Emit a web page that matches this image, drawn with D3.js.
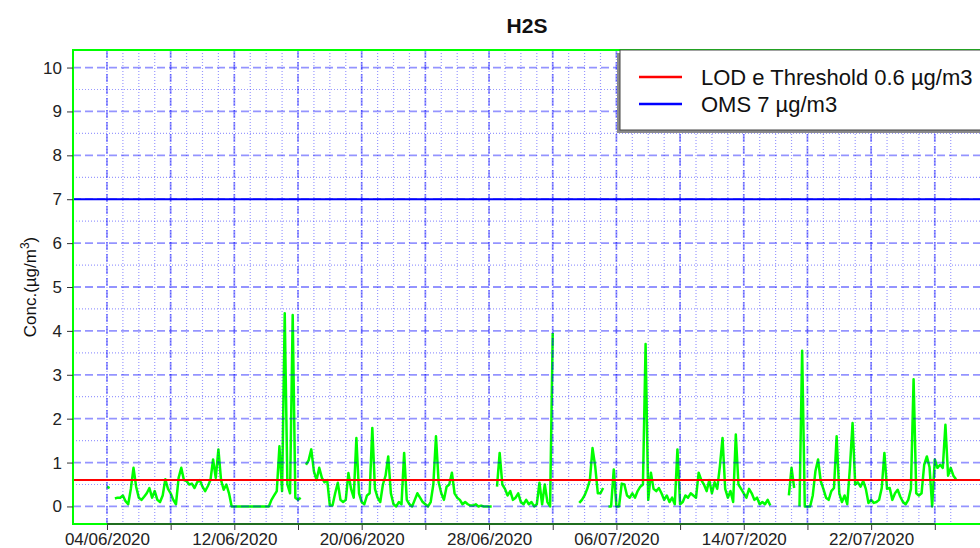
<!DOCTYPE html>
<html>
<head>
  <meta charset="utf-8">
  <title>H2S</title>
  <style>
    body { margin: 0; background: #fff; }
    svg { display: block; font-family: "Liberation Sans", Arial, sans-serif; }
    .tick text { fill: #222; }
    .tick line { stroke: #333; }
  </style>
</head>
<body>
  <svg width="980" height="548"></svg>
  <script src="https://d3js.org/d3.v7.min.js"></script>
  <script>
    // series: one value every 4 hours from 04/06/2020 00:00, null = missing
    const startDate = Date.UTC(2020, 5, 4);
    const stepHours = 4;
    const h2s = [
      0.45, 0.42, null, 0.18, 0.2, 0.2,     // 04/06
      0.25, 0.12, 0.05, 0.4, 0.88, 0.45,
      0.2, 0.15, 0.22, 0.3, 0.42, 0.2,
      0.35, 0.15, 0.1, 0.25, 0.62, 0.4,
      0.3, 0.15, 0.05, 0.65, 0.88, 0.6,
      0.58, 0.5, 0.52, 0.42, 0.55, 0.6,
      0.45, 0.35, 0.46, 0.6, 1.07, 0.65,
      1.3, 0.6, 0.38, 0.5, 0.3, 0.0,
      0, 0, 0, 0, 0, 0,                     // 12/06
      0, 0, 0, 0, 0, 0,
      0, 0, 0.15, 0.25, 0.35, 1.37,
      0.35, 4.4, 0.5, 0.3, 4.36, 0.2,
      0.15, 0.2, null, 0.95, 1.05, 1.3,
      0.8, 0.6, 0.88, 0.65, 0.55, 0.6,
      0.02, 0.02, 0.3, 0.54, 0.15, 0.1,
      0.15, 0.76, 0.4, 0.2, 1.56, 0.3,
      0.1, 0.05, 0.25, 0.3, 1.79, 0.4,      // 20/06
      0.2, 0.1, 0.5, 0.7, 1.14, 0.3,
      0.05, 0.0, 0.1, 0.05, 1.22, 0.15,
      0.05, 0.0, 0.15, 0.3, 0.2, 0.1,
      0.05, 0.0, 0.1, 0.5, 1.6, 0.55,
      0.3, 0.15, 0.45, 0.5, 0.77, 0.3,
      0.2, 0.15, 0.05, 0.1, 0.05, 0.02,
      0.02, 0.05, 0.0, 0.02, 0.0, 0.0,
      0.0, 0.0, null, 0.45, 1.22, 0.5,      // 28/06
      0.4, 0.25, 0.35, 0.15, 0.2, 0.3,
      0.1, 0.05, 0.15, 0.05, 0.1, 0.0,
      0.05, 0.54, 0.05, 0.5, 0.1, 0.0,
      3.95, null, null, null, null, null,
      null, null, null, null, 0.08, 0.15,
      0.25, 0.4, 0.6, 1.33, 0.92, 0.3,
      0.3, 0.42, null, 0.0, 0.0, 0.84,
      0.0, 0.0, 0.52, 0.5, 0.25, 0.2,       // 06/07
      0.3, 0.2, 0.35, 0.45, 0.5, 3.7,
      0.15, 0.77, 0.4, 0.35, 0.42, 0.3,
      0.15, 0.25, 0.1, 0.2, 0.05, 1.3,
      0.05, 0.1, 0.25, 0.2, 0.3, 0.25,
      0.2, 0.77, 0.6, 0.5, 0.35, 0.6,
      0.3, 0.55, 0.4, 0.92, 1.56, 0.4,
      0.2, 0.35, 0.1, 1.64, 0.5, 0.4,
      0.3, 0.2, 0.4, 0.3, 0.15, 0.2,        // 14/07
      0.05, 0.1, 0.05, 0.15, 0.02, null,
      null, null, null, null, null, 0.25,
      0.88, 0.42, null, 0.0, 3.55, 0.0,
      0.0, 0.0, 0.25, 0.8, 1.07, 0.58,
      0.4, 0.2, 0.15, 0.35, 0.42, 1.6,
      0.3, 0.1, 0.25, 0.05, 0.88, 1.9,
      0.5, 0.55, 0.45, 0.58, 0.4, 0.08,
      0.15, 0.08, 0.1, 0.15, 0.42, 1.22,    // 22/07
      0.4, 0.42, 0.15, 0.3, 0.38, 0.22,
      0.1, 0.05, 0.15, 0.4, 2.9, 0.3,
      0.25, 0.3, 0.95, 1.14, 0.9, 0.0,
      1.07, 0.88, 0.95, 0.88, 1.86, 0.7,
      0.88, 0.7, 0.62
    ];

    const lodValue = 0.6;
    const omsValue = 7;
    const legendLabels = ["LOD e Threshold 0.6 \u00b5g/m3", "OMS 7 \u00b5g/m3"];
    const legendColors = ["#ff0000", "#0000ff"];
    const yTicks = d3.range(0, 11);
    const yMinor = d3.range(0.5, 10, 1);

    const svg = d3.select("svg");
    const plotL = 73, plotR = 990, plotT = 50, plotB = 524;
    const day = 864e5;

    const data = h2s.map((v, i) => ({ t: new Date(startDate + i * stepHours * 3600e3), v: v }));

    // R-style 4% padding on both axes
    const [t0, t1] = d3.extent(data, d => d.t);
    const pad = (t1 - t0) * 0.04;
    const x = d3.scaleUtc().domain([new Date(+t0 - pad), new Date(+t1 + pad)]).range([plotL, plotR]);
    const y = d3.scaleLinear().domain([-0.4, 10.4]).range([plotB, plotT]);

    const dayTicks = d3.range(0, 54).map(i => new Date(startDate + i * day));
    const majorTicks = d3.range(0, 53, 4).map(i => new Date(startDate + i * day));
    const fmt = d3.utcFormat("%d/%m/%Y");

    svg.append("defs").append("clipPath").attr("id", "plot")
      .append("rect").attr("x", plotL).attr("y", plotT).attr("width", plotR - plotL).attr("height", plotB - plotT);

    // data line
    svg.append("path")
      .datum(data)
      .attr("clip-path", "url(#plot)")
      .attr("fill", "none")
      .attr("stroke", "#00ff00")
      .attr("stroke-width", 2.5)
      .attr("stroke-linejoin", "round")
      .attr("d", d3.line().defined(d => d.v != null).x(d => x(d.t)).y(d => y(d.v)));

    // grid, drawn over the data like the original
    const grid = svg.append("g").attr("stroke", "#0000ff").attr("fill", "none");
    grid.selectAll(".vmin").data(dayTicks).join("line")
      .attr("x1", d => x(d)).attr("x2", d => x(d)).attr("y1", plotT).attr("y2", plotB)
      .attr("stroke-opacity", 0.4).attr("stroke-width", 1.2).attr("stroke-dasharray", "1,2");
    grid.selectAll(".hmin").data(yMinor).join("line")
      .attr("x1", plotL).attr("x2", plotR).attr("y1", d => y(d)).attr("y2", d => y(d))
      .attr("stroke-opacity", 0.4).attr("stroke-width", 1.2).attr("stroke-dasharray", "1,2");
    grid.selectAll(".vmaj").data(majorTicks).join("line")
      .attr("x1", d => x(d)).attr("x2", d => x(d)).attr("y1", plotT).attr("y2", plotB)
      .attr("stroke-opacity", 0.42).attr("stroke-width", 1.8).attr("stroke-dasharray", "8,4");
    grid.selectAll(".hmaj").data(yTicks).join("line")
      .attr("x1", plotL).attr("x2", plotR).attr("y1", d => y(d)).attr("y2", d => y(d))
      .attr("stroke-opacity", 0.42).attr("stroke-width", 1.8).attr("stroke-dasharray", "8,4");

    // threshold lines
    svg.append("line").attr("x1", plotL).attr("x2", plotR).attr("y1", y(lodValue)).attr("y2", y(lodValue))
      .attr("stroke", legendColors[0]).attr("stroke-width", 2);
    svg.append("line").attr("x1", plotL).attr("x2", plotR).attr("y1", y(omsValue)).attr("y2", y(omsValue))
      .attr("stroke", legendColors[1]).attr("stroke-width", 2);

    // plot box
    svg.append("rect").attr("x", plotL).attr("y", plotT).attr("width", plotR - plotL).attr("height", plotB - plotT)
      .attr("fill", "none").attr("stroke", "#00ff00").attr("stroke-width", 2);

    // axes
    const yAxis = svg.append("g").attr("transform", `translate(${plotL},0)`)
      .call(d3.axisLeft(y).tickValues(yTicks).tickSize(6).tickPadding(5))
      .attr("font-size", 17).attr("font-family", null);
    yAxis.select(".domain").remove();

    const xAxis = svg.append("g").attr("transform", `translate(0,${plotB})`)
      .call(d3.axisBottom(x).tickValues(majorTicks).tickSize(6).tickPadding(3)
        .tickFormat((d, i) => i % 2 === 0 ? fmt(d) : ""))
      .attr("font-size", 17).attr("font-family", null);
    xAxis.select(".domain").remove();
    xAxis.append("line")
      .attr("x1", x(majorTicks[0])).attr("x2", x(majorTicks[majorTicks.length - 1]))
      .attr("stroke", "#1f6e1f").attr("stroke-width", 2);

    // titles
    svg.append("text").attr("x", 527).attr("y", 33).attr("text-anchor", "middle")
      .attr("font-size", 21).attr("font-weight", "bold").attr("fill", "#111").text("H2S");

    const yTitle = svg.append("text")
      .attr("transform", `translate(36,${(plotT + plotB) / 2}) rotate(-90)`)
      .attr("text-anchor", "middle").attr("font-size", 17).attr("fill", "#111");
    yTitle.append("tspan").text("Conc.(\u00b5g/m");
    yTitle.append("tspan").attr("font-size", 12).attr("dy", -7).text("3");
    yTitle.append("tspan").attr("dy", 7).text(")");

    // legend
    const lg = svg.append("g");
    lg.append("rect").attr("x", 617).attr("y", 53).attr("width", 373).attr("height", 80).attr("fill", "#8a8a8a");
    lg.append("rect").attr("x", 620).attr("y", 50).attr("width", 370).attr("height", 80)
      .attr("fill", "#fff").attr("stroke", "#444").attr("stroke-width", 1);
    legendLabels.forEach((label, i) => {
      const ly = 77 + i * 27;
      lg.append("line").attr("x1", 639).attr("x2", 682).attr("y1", ly).attr("y2", ly)
        .attr("stroke", legendColors[i]).attr("stroke-width", 2.5);
      lg.append("text").attr("x", 701).attr("y", ly + 8).attr("font-size", 22).attr("fill", "#111").text(label);
    });
  </script>
</body>
</html>
